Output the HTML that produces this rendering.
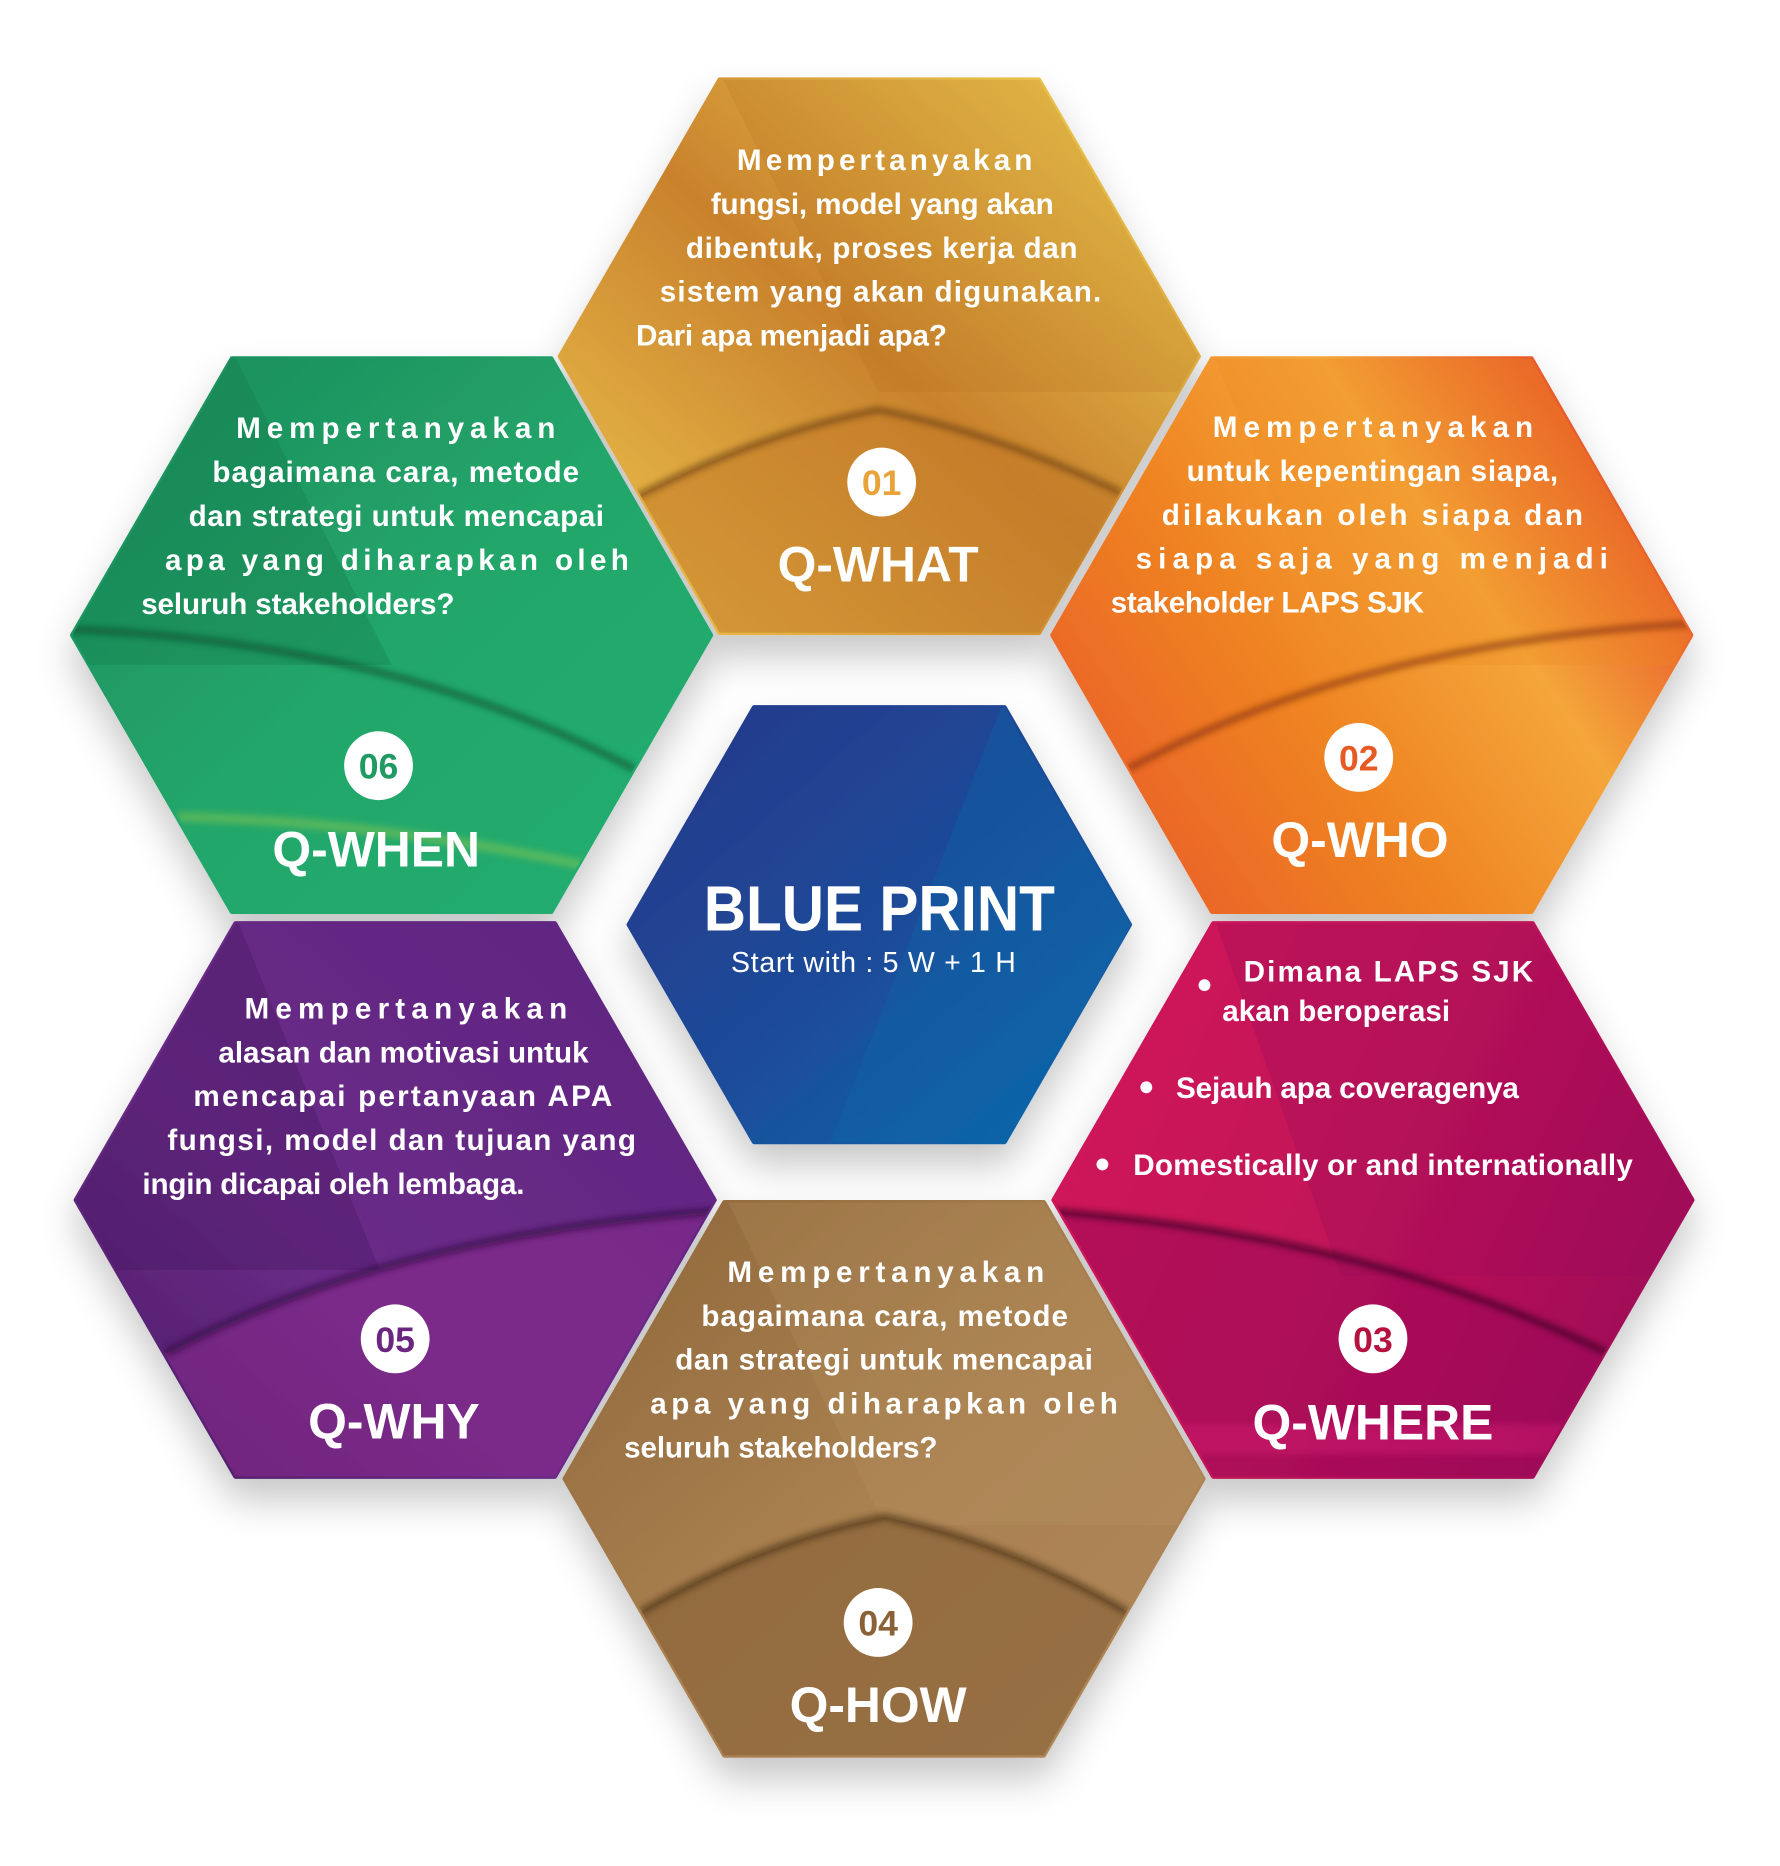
<!DOCTYPE html>
<html><head><meta charset="utf-8"><style>
html,body{margin:0;padding:0;background:#fff;}
svg{display:block;}
text{font-family:"Liberation Sans",sans-serif;font-weight:bold;fill:#fff;}
</style></head><body>
<svg width="1780" height="1866" viewBox="0 0 1500 1572" xmlns="http://www.w3.org/2000/svg">
<defs>
<filter id="sh" x="-20%" y="-20%" width="140%" height="150%"><feDropShadow dx="0" dy="18" stdDeviation="16" flood-color="#000" flood-opacity="0.22"/></filter>
<filter id="bl" x="-10%" y="-50%" width="120%" height="200%"><feGaussianBlur stdDeviation="3"/></filter>
<linearGradient id="gWhat" x1="0" y1="1" x2="1" y2="0"><stop offset="0" stop-color="#f0c850"/><stop offset="0.5" stop-color="#c9822c"/><stop offset="1" stop-color="#f3d858"/></linearGradient>
<linearGradient id="gWho" x1="0" y1="1" x2="1" y2="0.4"><stop offset="0" stop-color="#e8552a"/><stop offset="0.45" stop-color="#ef8322"/><stop offset="0.75" stop-color="#f4a63a"/><stop offset="1" stop-color="#e8582a"/></linearGradient>
<linearGradient id="gWhere" x1="0" y1="0.3" x2="1" y2="0.7"><stop offset="0" stop-color="#d0175a"/><stop offset="0.5" stop-color="#c01358"/><stop offset="1" stop-color="#9c0858"/></linearGradient>
<linearGradient id="gHow" x1="0" y1="0" x2="1" y2="1"><stop offset="0" stop-color="#8e6639"/><stop offset="0.5" stop-color="#a98050"/><stop offset="1" stop-color="#b0875a"/></linearGradient>
<linearGradient id="gWhy" x1="0" y1="1" x2="1" y2="0"><stop offset="0" stop-color="#4a1a64"/><stop offset="0.4" stop-color="#6a2c88"/><stop offset="1" stop-color="#5e2480"/></linearGradient>
<linearGradient id="gWhen" x1="0" y1="0" x2="1" y2="1"><stop offset="0" stop-color="#1c8a5a"/><stop offset="0.5" stop-color="#22a66a"/><stop offset="1" stop-color="#22ae70"/></linearGradient>
<linearGradient id="gBlue" x1="0" y1="0" x2="1" y2="1"><stop offset="0" stop-color="#25388a"/><stop offset="0.5" stop-color="#1e4a98"/><stop offset="1" stop-color="#0a6cad"/></linearGradient>
<clipPath id="cWhat"><polygon points="472,300 606.5,67 875.5,67 1010,300 875.5,533 606.5,533"/></clipPath>
<clipPath id="cWho"><polygon points="887,535 1021.5,302 1290.5,302 1425,535 1290.5,768 1021.5,768"/></clipPath>
<clipPath id="cWhere"><polygon points="888,1011 1022.5,778 1291.5,778 1426,1011 1291.5,1244 1022.5,1244"/></clipPath>
<clipPath id="cHow"><polygon points="476,1246 610.5,1013 879.5,1013 1014,1246 879.5,1479 610.5,1479"/></clipPath>
<clipPath id="cWhy"><polygon points="64,1011 198.5,778 467.5,778 602,1011 467.5,1244 198.5,1244"/></clipPath>
<clipPath id="cWhen"><polygon points="61,535 195.5,302 464.5,302 599,535 464.5,768 195.5,768"/></clipPath>
<clipPath id="cBlue"><polygon points="530,779 635.5,596 846.5,596 952,779 846.5,962 635.5,962"/></clipPath>
</defs>

<g stroke-linejoin="round" stroke-width="4" filter="url(#sh)">
<polygon points="472,300 606.5,67 875.5,67 1010,300 875.5,533 606.5,533" fill="url(#gWhat)" stroke="url(#gWhat)"/>
<polygon points="887,535 1021.5,302 1290.5,302 1425,535 1290.5,768 1021.5,768" fill="url(#gWho)" stroke="url(#gWho)"/>
<polygon points="888,1011 1022.5,778 1291.5,778 1426,1011 1291.5,1244 1022.5,1244" fill="url(#gWhere)" stroke="url(#gWhere)"/>
<polygon points="476,1246 610.5,1013 879.5,1013 1014,1246 879.5,1479 610.5,1479" fill="url(#gHow)" stroke="url(#gHow)"/>
<polygon points="64,1011 198.5,778 467.5,778 602,1011 467.5,1244 198.5,1244" fill="url(#gWhy)" stroke="url(#gWhy)"/>
<polygon points="61,535 195.5,302 464.5,302 599,535 464.5,768 195.5,768" fill="url(#gWhen)" stroke="url(#gWhen)"/>
<polygon points="530,779 635.5,596 846.5,596 952,779 846.5,962 635.5,962" fill="url(#gBlue)" stroke="url(#gBlue)"/>
</g>

<g clip-path="url(#cWhat)">
<polygon points="606,60 740,330 1010,330 1010,60" fill="#b06a1a" opacity="0.18"/>
<path d="M470 430 L537 418 Q640 365 740 345 Q840 365 945 415 L1010 430 L1010 540 L470 540 Z" fill="#c27a28" opacity="0.55"/>
<path d="M537 418 Q640 365 740 345 Q840 365 945 415" fill="none" stroke="#6e4312" stroke-width="5" filter="url(#bl)" opacity="0.8"/>
</g>
<g clip-path="url(#cHow)">
<polygon points="610,1005 745,1285 1020,1285 1020,1005" fill="#c09a6a" opacity="0.2"/>
<path d="M470 1370 L540 1358 Q640 1300 745 1278 Q850 1300 950 1358 L1020 1370 L1020 1490 L470 1490 Z" fill="#7a552c" opacity="0.45"/>
<path d="M540 1358 Q640 1300 745 1278 Q850 1300 950 1358" fill="none" stroke="#4a3015" stroke-width="5" filter="url(#bl)" opacity="0.8"/>
</g>
<g clip-path="url(#cWho)">
<polygon points="1021,295 1130,560 1430,560 1430,295" fill="#f08a20" opacity="0.3"/>
<path d="M950 648 Q1150 540 1430 525" fill="none" stroke="#7a2a0a" stroke-width="5" filter="url(#bl)" opacity="0.7"/>
</g>
<g clip-path="url(#cWhen)">
<polygon points="195,295 330,560 60,560 60,295" fill="#157a4e" opacity="0.35"/>
<path d="M55 530 Q330 540 535 648" fill="none" stroke="#0c4a2c" stroke-width="5" filter="url(#bl)" opacity="0.7"/>
<path d="M150 688 Q330 692 520 735" fill="none" stroke="#a8cf4a" stroke-width="8" filter="url(#bl)" opacity="0.4"/>
</g>
<g clip-path="url(#cWhy)">
<polygon points="198,770 320,1070 60,1070 60,770" fill="#3e145a" opacity="0.3"/>
<path d="M130 1140 L140 1140 Q330 1040 610 1020 L610 1250 L60 1250 Z" fill="#8a2a8c" opacity="0.55"/>
<path d="M140 1140 Q330 1040 610 1020" fill="none" stroke="#2e0a3e" stroke-width="5" filter="url(#bl)" opacity="0.8"/>
</g>
<g clip-path="url(#cWhere)">
<polygon points="1022,770 1130,1075 1430,1075 1430,770" fill="#9a0a5a" opacity="0.3"/>
<path d="M880 1020 Q1150 1040 1355 1140 L1430 1140 L1430 1250 L880 1250 Z" fill="#9a0858" opacity="0.5"/>
<path d="M885 1200 L1430 1200 L1430 1225 L885 1225 Z" fill="#e0207a" opacity="0.35" filter="url(#bl)"/>
<path d="M880 1020 Q1150 1040 1355 1140" fill="none" stroke="#400028" stroke-width="5" filter="url(#bl)" opacity="0.85"/>
</g>
<g clip-path="url(#cBlue)">
<polygon points="846,590 700,962 960,962 960,590" fill="#0c66aa" opacity="0.35"/>
</g>

<g fill="#fff">
<circle cx="743" cy="406" r="29"/><circle cx="1145" cy="638" r="29"/><circle cx="1157" cy="1128" r="29"/>
<circle cx="740" cy="1367" r="29"/><circle cx="333" cy="1128" r="29"/><circle cx="319" cy="645" r="29"/>
</g>
<g font-size="30" text-anchor="middle">
<text x="743" y="417" style="fill:#e8a43a">01</text>
<text x="1145" y="649" style="fill:#e65a24">02</text>
<text x="1157" y="1139" style="fill:#b5123f">03</text>
<text x="740" y="1378" style="fill:#8b6236">04</text>
<text x="333" y="1139" style="fill:#6a2680">05</text>
<text x="319" y="656" style="fill:#1f9a62">06</text>
</g>
<g font-size="42" text-anchor="middle">
<text x="740" y="490">Q-WHAT</text>
<text x="1146" y="722">Q-WHO</text>
<text x="1157" y="1213">Q-WHERE</text>
<text x="740" y="1451">Q-HOW</text>
<text x="332" y="1212">Q-WHY</text>
<text x="317" y="730">Q-WHEN</text>
</g>

<g font-size="25">
<text x="621" y="143" textLength="249" lengthAdjust="spacing">Mempertanyakan</text>
<text x="599" y="180" textLength="289" lengthAdjust="spacing">fungsi, model yang akan</text>
<text x="578" y="217" textLength="330" lengthAdjust="spacing">dibentuk, proses kerja dan</text>
<text x="556" y="254" textLength="372" lengthAdjust="spacing">sistem yang akan digunakan.</text>
<text x="536" y="291" textLength="262" lengthAdjust="spacing">Dari apa menjadi apa?</text>

<text x="1022" y="368" textLength="270" lengthAdjust="spacing">Mempertanyakan</text>
<text x="1000" y="405" textLength="313" lengthAdjust="spacing">untuk kepentingan siapa,</text>
<text x="979" y="442" textLength="355" lengthAdjust="spacing">dilakukan oleh siapa dan</text>
<text x="957" y="479" textLength="398" lengthAdjust="spacing">siapa saja yang menjadi</text>
<text x="936" y="516" textLength="264" lengthAdjust="spacing">stakeholder LAPS SJK</text>

<text x="199" y="369" textLength="269" lengthAdjust="spacing">Mempertanyakan</text>
<text x="179" y="406" textLength="309" lengthAdjust="spacing">bagaimana cara, metode</text>
<text x="159" y="443" textLength="350" lengthAdjust="spacing">dan strategi untuk mencapai</text>
<text x="139" y="480" textLength="391" lengthAdjust="spacing">apa yang diharapkan oleh</text>
<text x="119" y="517" textLength="264" lengthAdjust="spacing">seluruh stakeholders?</text>

<text x="206" y="858" textLength="272" lengthAdjust="spacing">Mempertanyakan</text>
<text x="184" y="895" textLength="312" lengthAdjust="spacing">alasan dan motivasi untuk</text>
<text x="163" y="932" textLength="353" lengthAdjust="spacing">mencapai pertanyaan APA</text>
<text x="141" y="969" textLength="395" lengthAdjust="spacing">fungsi, model dan tujuan yang</text>
<text x="120" y="1006" textLength="322" lengthAdjust="spacing">ingin dicapai oleh lembaga.</text>

<text x="613" y="1080" textLength="267" lengthAdjust="spacing">Mempertanyakan</text>
<text x="591" y="1117" textLength="309" lengthAdjust="spacing">bagaimana cara, metode</text>
<text x="569" y="1154" textLength="352" lengthAdjust="spacing">dan strategi untuk mencapai</text>
<text x="548" y="1191" textLength="394" lengthAdjust="spacing">apa yang diharapkan oleh</text>
<text x="526" y="1228" textLength="264" lengthAdjust="spacing">seluruh stakeholders?</text>

<text x="1048" y="827" textLength="244" lengthAdjust="spacing">Dimana LAPS SJK</text>
<text x="1030" y="860" textLength="192" lengthAdjust="spacing">akan beroperasi</text>
<text x="991" y="925" textLength="289" lengthAdjust="spacing">Sejauh apa coveragenya</text>
<text x="955" y="990" textLength="421" lengthAdjust="spacing">Domestically or and internationally</text>
</g>
<g fill="#fff"><circle cx="1015" cy="830" r="5"/><circle cx="966" cy="916" r="5"/><circle cx="929" cy="981" r="5"/></g>

<text x="741" y="784" font-size="54" text-anchor="middle" textLength="296" lengthAdjust="spacingAndGlyphs">BLUE PRINT</text>
<text x="736" y="819" font-size="24" text-anchor="middle" style="font-weight:normal" textLength="240" lengthAdjust="spacing">Start with : 5 W + 1 H</text>
</svg>
</body></html>
